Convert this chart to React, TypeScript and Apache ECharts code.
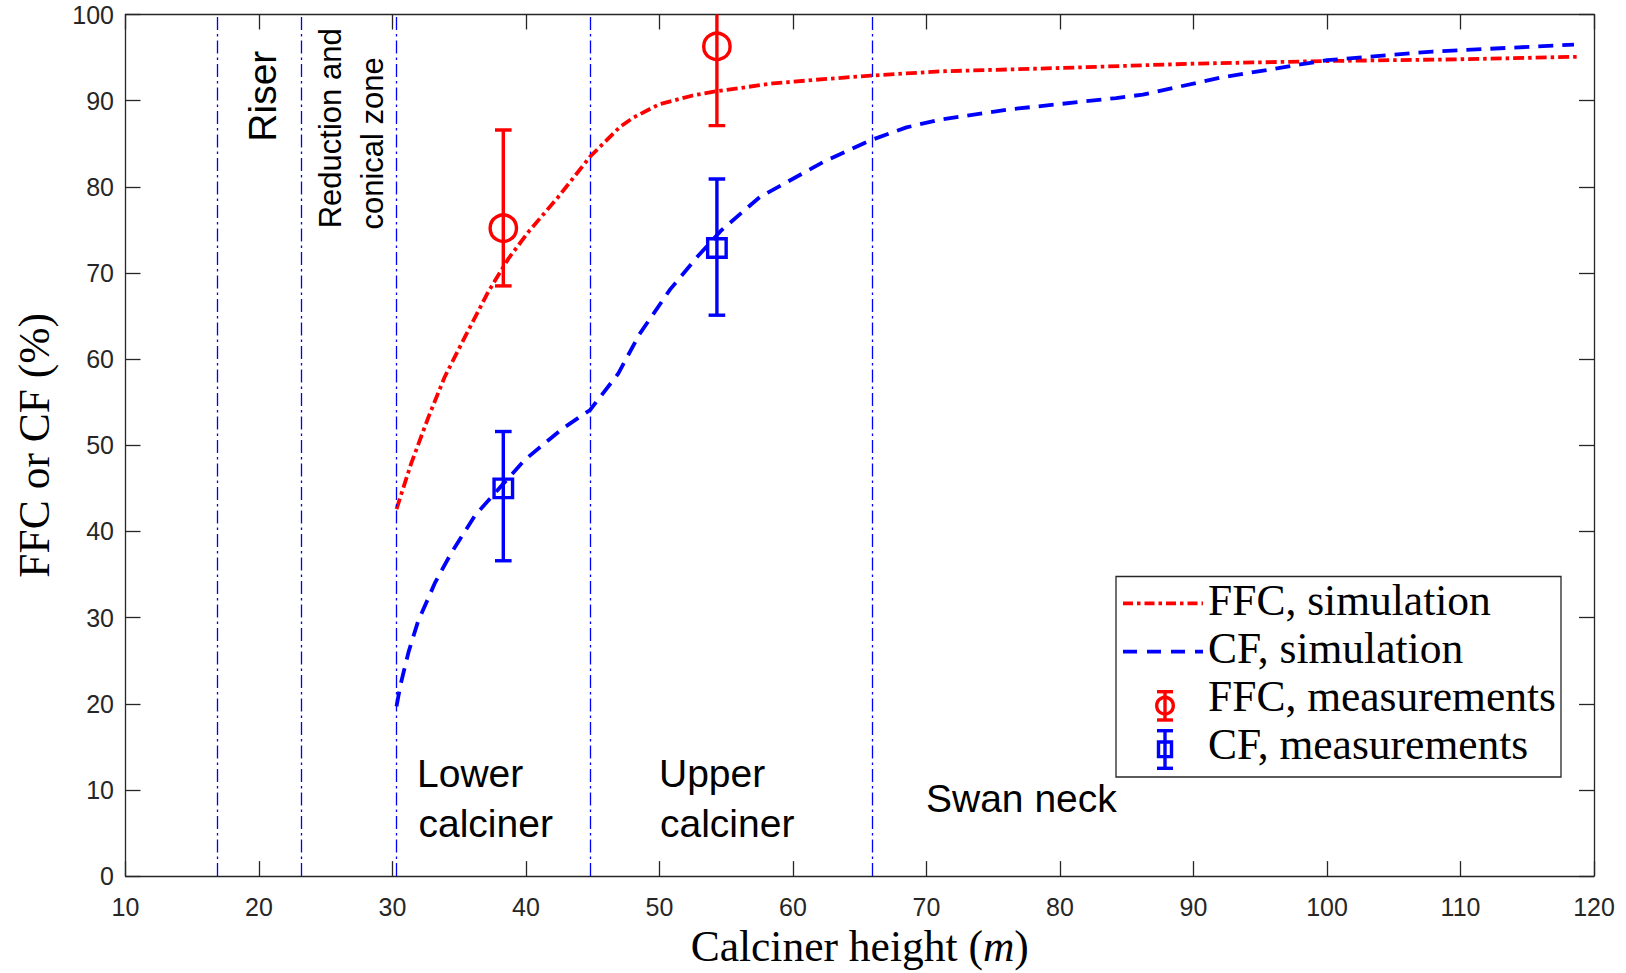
import React, { useEffect, useRef } from "react";
import * as echarts from "echarts";

// ---- Data ----
const ffcSimX = [30.3, 31.4, 32.7, 33.9, 35.4, 37.2, 38.7, 40.2, 42.4, 44.8, 47.0, 48.0, 50.0, 52.5, 54.3, 58.5, 62.3, 65.8, 71.0, 80.2, 90.1, 100.0, 109.9, 118.9];
const ffcSimY = [42.6, 47.9, 53.3, 57.9, 62.5, 67.9, 71.7, 74.8, 78.8, 83.5, 86.9, 88.0, 89.6, 90.6, 91.1, 92.0, 92.5, 92.9, 93.4, 93.8, 94.3, 94.6, 94.8, 95.1];

const cfSimX = [30.3, 30.6, 31.2, 31.9, 33.2, 34.4, 36.2, 37.7, 39.9, 42.7, 44.8, 46.9, 48.5, 50.8, 52.9, 54.6, 57.5, 62.3, 65.8, 68.5, 71.0, 76.3, 84.2, 86.2, 92.1, 98.0, 100.0, 107.9, 118.5];
const cfSimY = [19.7, 22.2, 26.0, 29.5, 34.1, 37.5, 41.9, 44.5, 48.3, 51.9, 54.1, 58.3, 62.9, 68.1, 72.0, 74.9, 78.8, 82.9, 85.4, 86.9, 87.8, 89.0, 90.3, 90.7, 92.7, 94.2, 94.7, 95.7, 96.5];

const measX = [38.3, 54.3];
const ffcMeas = [75.2, 96.3];
const ffcLow = [68.5, 87.1];
const ffcHigh = [86.6, 105.5];
const cfMeas = [45.0, 72.9];
const cfLow = [36.6, 65.1];
const cfHigh = [51.6, 80.9];

const zoneBounds = [16.9, 23.2, 30.3, 44.8, 65.9];

const legendLabels = ["FFC, simulation", "CF, simulation", "FFC, measurements", "CF, measurements"];
const xAxisTitle = "Calciner height ({i|m})";
const yAxisTitle = "FFC or CF (%)";

const RED = "#ff0000";
const BLUE = "#0000ff";
const AXIS = "#262626";
const SANS = '"Liberation Sans", Arial, sans-serif';
const SERIF = '"Liberation Serif", "Times New Roman", serif';

function errorBarRenderer(color: string, marker: "circle" | "square") {
  return (params: any, api: any) => {
    const x = api.value(0);
    const y = api.value(1);
    const lo = api.value(2);
    const hi = api.value(3);
    const p = api.coord([x, y]);
    const pl = api.coord([x, lo]);
    const ph = api.coord([x, hi]);
    const cw = 8.3;
    const st = { stroke: color, lineWidth: 3.4, fill: "none" };
    const children: any[] = [
      { type: "line", shape: { x1: p[0], y1: ph[1], x2: p[0], y2: pl[1] }, style: st },
      { type: "line", shape: { x1: p[0] - cw, y1: ph[1], x2: p[0] + cw, y2: ph[1] }, style: st },
      { type: "line", shape: { x1: p[0] - cw, y1: pl[1], x2: p[0] + cw, y2: pl[1] }, style: st },
    ];
    if (marker === "circle") {
      children.push({ type: "circle", shape: { cx: p[0], cy: p[1], r: 13.2 }, style: st });
    } else {
      const s = 18.5;
      children.push({ type: "rect", shape: { x: p[0] - s / 2, y: p[1] - s / 2, width: s, height: s }, style: st });
    }
    return { type: "group", children };
  };
}

export default function App() {
  const ref = useRef<HTMLDivElement>(null);

  useEffect(() => {
    document.body.style.margin = "0";
    if (!ref.current) return;
    const chart = echarts.init(ref.current, undefined, { renderer: "svg" });

    const ffcSim = ffcSimX.map((x, i) => [x, ffcSimY[i]]);
    const cfSim = cfSimX.map((x, i) => [x, cfSimY[i]]);
    const ffcBars = measX.map((x, i) => [x, ffcMeas[i], ffcLow[i], ffcHigh[i]]);
    const cfBars = measX.map((x, i) => [x, cfMeas[i], cfLow[i], cfHigh[i]]);

    const zoneText = (text: string, x: number, y: number, size: number, rotated: boolean) => ({
      type: "text",
      x,
      y,
      rotation: rotated ? Math.PI / 2 : 0,
      z: 50,
      silent: true,
      style: {
        text,
        fill: "#000",
        fontSize: size,
        fontFamily: SANS,
        align: "left",
        verticalAlign: "middle",
      },
    });

    const legendRowY = [600, 647.5, 695.5, 744];
    const legendGraphics: any[] = [
      {
        type: "rect",
        z: 60,
        shape: { x: 1116, y: 576.5, width: 445, height: 200.5 },
        style: { fill: "#fff", stroke: AXIS, lineWidth: 1.3 },
      },
      {
        type: "line",
        z: 61,
        shape: { x1: 1123, y1: 603.3, x2: 1203, y2: 603.3 },
        style: { stroke: RED, lineWidth: 3.8, lineDash: [10, 4, 3.5, 4] },
      },
      {
        type: "line",
        z: 61,
        shape: { x1: 1123, y1: 651.7, x2: 1203, y2: 651.7 },
        style: { stroke: BLUE, lineWidth: 3.8, lineDash: [14, 10] },
      },
      // FFC measurement icon
      { type: "line", z: 61, shape: { x1: 1165, y1: 691.7, x2: 1165, y2: 720 }, style: { stroke: RED, lineWidth: 3.4 } },
      { type: "line", z: 61, shape: { x1: 1157, y1: 691.7, x2: 1173, y2: 691.7 }, style: { stroke: RED, lineWidth: 3.4 } },
      { type: "line", z: 61, shape: { x1: 1157, y1: 720, x2: 1173, y2: 720 }, style: { stroke: RED, lineWidth: 3.4 } },
      { type: "circle", z: 61, shape: { cx: 1165, cy: 705.7, r: 8.3 }, style: { stroke: RED, lineWidth: 3.4, fill: "none" } },
      // CF measurement icon
      { type: "line", z: 61, shape: { x1: 1165, y1: 730.7, x2: 1165, y2: 768.3 }, style: { stroke: BLUE, lineWidth: 3.4 } },
      { type: "line", z: 61, shape: { x1: 1157, y1: 730.7, x2: 1173, y2: 730.7 }, style: { stroke: BLUE, lineWidth: 3.4 } },
      { type: "line", z: 61, shape: { x1: 1157, y1: 768.3, x2: 1173, y2: 768.3 }, style: { stroke: BLUE, lineWidth: 3.4 } },
      { type: "rect", z: 61, shape: { x: 1158.5, y: 742, width: 13, height: 14.6 }, style: { stroke: BLUE, lineWidth: 3.4, fill: "none" } },
      ...legendLabels.map((t, i) => ({
        type: "text",
        z: 62,
        x: 1208,
        y: legendRowY[i],
        style: {
          text: t,
          fill: "#000",
          fontSize: 43.5,
          fontFamily: SERIF,
          align: "left",
          verticalAlign: "middle",
        },
      })),
    ];

    const axisCommon = {
      axisLine: { show: true, onZero: false, lineStyle: { color: AXIS, width: 1.3 } },
      axisTick: { show: true, inside: true, length: 15, lineStyle: { color: AXIS, width: 1.3 } },
      splitLine: { show: false },
    };

    chart.setOption({
      animation: false,
      backgroundColor: "#fff",
      grid: { left: 125.5, right: 32, top: 14.5, bottom: 90.5, containLabel: false },
      xAxis: [
        {
          type: "value",
          min: 10,
          max: 120,
          interval: 10,
          position: "bottom",
          ...axisCommon,
          axisLabel: { show: true, margin: 18, fontSize: 25, fontFamily: SANS, color: AXIS },
          name: xAxisTitle,
          nameLocation: "middle",
          nameGap: 44,
          nameTextStyle: {
            fontSize: 43.5,
            fontFamily: SERIF,
            color: "#000",
            rich: { i: { fontSize: 43.5, fontFamily: SERIF, fontStyle: "italic", color: "#000" } },
          },
        },
        {
          type: "value",
          min: 10,
          max: 120,
          interval: 10,
          position: "top",
          ...axisCommon,
          axisLabel: { show: false },
        },
      ],
      yAxis: [
        {
          type: "value",
          min: 0,
          max: 100,
          interval: 10,
          position: "left",
          ...axisCommon,
          axisLabel: { show: true, margin: 11.5, fontSize: 25, fontFamily: SANS, color: AXIS },
          name: yAxisTitle,
          nameLocation: "middle",
          nameGap: 70,
          nameRotate: 90,
          nameTextStyle: { fontSize: 43.5, fontFamily: SERIF, color: "#000" },
        },
        {
          type: "value",
          min: 0,
          max: 100,
          interval: 10,
          position: "right",
          ...axisCommon,
          axisLabel: { show: false },
        },
      ],
      series: [
        {
          name: "zones",
          type: "line",
          data: [],
          silent: true,
          z: 1,
          markLine: {
            silent: true,
            symbol: "none",
            animation: false,
            label: { show: false },
            lineStyle: { color: BLUE, width: 1.3, type: [13, 4, 2.5, 4] },
            data: zoneBounds.map((v) => ({ xAxis: v })),
          },
        },
        {
          name: legendLabels[0],
          type: "line",
          data: ffcSim,
          showSymbol: false,
          smooth: false,
          z: 3,
          lineStyle: { color: RED, width: 3.8, type: [11, 4, 3.5, 4] },
        },
        {
          name: legendLabels[1],
          type: "line",
          data: cfSim,
          showSymbol: false,
          smooth: false,
          z: 3,
          lineStyle: { color: BLUE, width: 3.8, type: [15, 9] },
        },
        {
          name: legendLabels[2],
          type: "custom",
          data: ffcBars,
          clip: true,
          z: 4,
          renderItem: errorBarRenderer(RED, "circle"),
        },
        {
          name: legendLabels[3],
          type: "custom",
          data: cfBars,
          clip: true,
          z: 4,
          renderItem: errorBarRenderer(BLUE, "square"),
        },
      ],
      graphic: [
        zoneText("Riser", 262.3, 141.7, 39, true),
        zoneText("Reduction and", 330.8, 228.3, 31, true),
        zoneText("conical zone", 372.4, 229.5, 31, true),
        zoneText("Lower", 417, 773, 39, false),
        zoneText("calciner", 418.5, 823.4, 39, false),
        zoneText("Upper", 659, 773, 39, false),
        zoneText("calciner", 660, 823.4, 39, false),
        zoneText("Swan neck", 926, 798, 39, false),
        ...legendGraphics,
      ],
    });

    return () => chart.dispose();
  }, []);

  return (
    <div
      ref={ref}
      style={{ position: "absolute", left: 0, top: 0, width: 1626, height: 973, background: "#fff" }}
    />
  );
}
